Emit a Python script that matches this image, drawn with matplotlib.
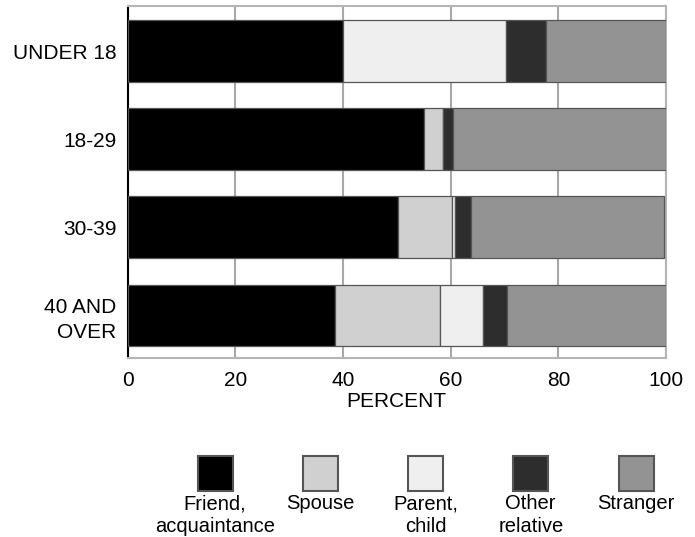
import matplotlib.pyplot as plt
from matplotlib.patches import Rectangle

plt.rcParams['font.family'] = ['Liberation Sans', 'DejaVu Sans']

age_groups = ['UNDER 18', '18-29', '30-39', '40 AND\nOVER']
relations = ['Friend,\nacquaintance', 'Spouse', 'Parent,\nchild', 'Other\nrelative', 'Stranger']

friend = [40.1, 55.1, 50.2, 38.6]
spouse = [0.0, 3.5, 10.0, 19.5]
parent = [30.2, 0.0, 0.7, 7.9]
other = [7.5, 1.8, 2.8, 4.5]
stranger = [22.2, 39.6, 36.0, 29.5]

colors = ['#000000', '#d0d0d0', '#efefef', '#2d2d2d', '#939393']
series = [friend, spouse, parent, other, stranger]

fig = plt.figure(figsize=(6.95, 5.37), dpi=100)
ax = fig.add_axes([0.1835, 0.3333, 0.7748, 0.6555])

left = [0.0] * len(age_groups)
for vals, col in zip(series, colors):
    ax.barh(range(len(age_groups)), vals, left=left, height=0.7, color=col,
            edgecolor='#555555', linewidth=0.9, zorder=3)
    left = [l + v for l, v in zip(left, vals)]

ax.set_xlim(0, 100)
ax.set_ylim(3.485, -0.514)
ax.set_xticks([0, 20, 40, 60, 80, 100])
ax.set_yticks(range(len(age_groups)))
ax.set_yticklabels(age_groups, fontsize=15, ha='right')
for t in ax.get_yticklabels():
    t.set_linespacing(1.35)
ax.tick_params(axis='y', length=0, pad=8)
ax.tick_params(axis='x', length=0, pad=9, labelsize=15)
ax.xaxis.grid(True, color='#a8a8a8', linewidth=1.5, zorder=0)
ax.set_axisbelow(True)
ax.set_xlabel('PERCENT', fontsize=15, labelpad=2)

for s in ['top', 'right', 'bottom']:
    ax.spines[s].set_color('#b5b5b5')
    ax.spines[s].set_linewidth(1.5)
ax.spines['left'].set_color('black')
ax.spines['left'].set_linewidth(1.5)

# legend: squares with labels underneath
W, H = 695, 537
for i, (lab, col) in enumerate(zip(relations, colors)):
    cx = 215 + i * 105.25
    sq = 35
    fig.patches.append(Rectangle(((cx - sq / 2) / W, 1 - 491 / H), sq / W, sq / H,
                                 transform=fig.transFigure, facecolor=col,
                                 edgecolor='#555555', linewidth=1.5))
    fig.text(cx / W, 1 - 494 / H, lab, ha='center', va='top', fontsize=14.5,
             linespacing=1.25)

plt.savefig('out.png')
